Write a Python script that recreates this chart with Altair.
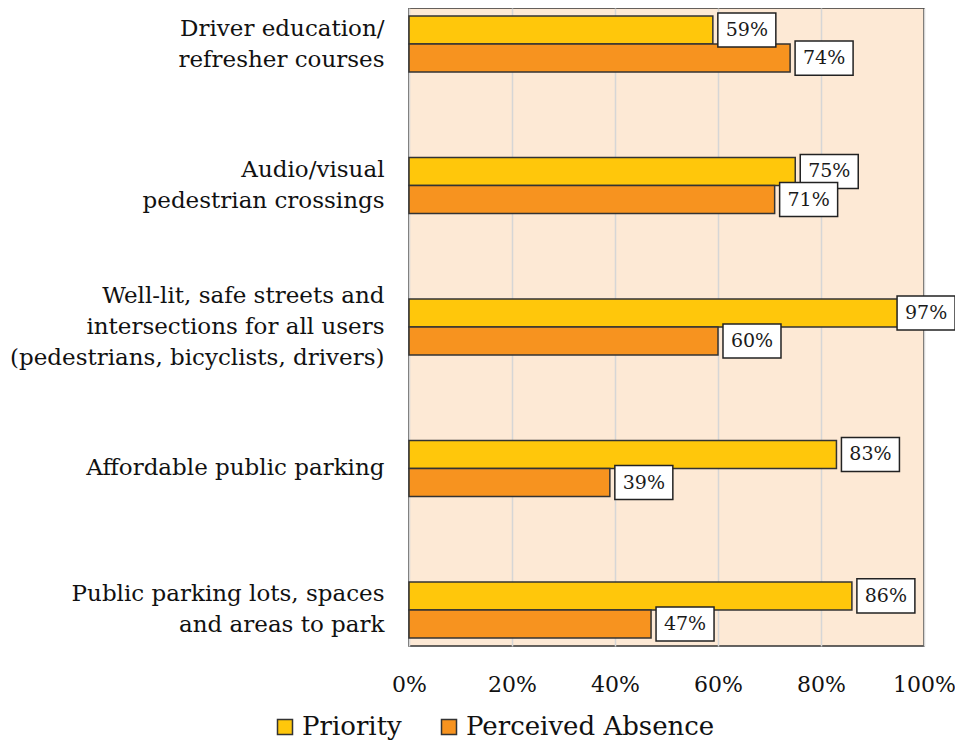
import altair as alt
import pandas as pd

categories = [
    "Driver education/\nrefresher courses",
    "Audio/visual\npedestrian crossings",
    "Well-lit, safe streets and\nintersections for all users\n(pedestrians, bicyclists, drivers)",
    "Affordable public parking",
    "Public parking lots, spaces\nand areas to park",
]
series = ["Priority", "Perceived Absence"]
priority = [59, 75, 97, 83, 86]
perceived = [74, 71, 60, 39, 47]
x_ticks = [0, 20, 40, 60, 80, 100]

rows = []
for c, p, a in zip(categories, priority, perceived):
    rows.append({"cat": c, "series": "Priority", "value": p})
    rows.append({"cat": c, "series": "Perceived Absence", "value": a})
df = pd.DataFrame(rows)

FONT = "DejaVu Serif"
colors = ["#FFC70B", "#F7931F"]

y_enc = alt.Y("cat:N", sort=categories, title=None,
              scale=alt.Scale(paddingInner=0.604, paddingOuter=0.0565),
              axis=alt.Axis(labelExpr="split(datum.label, '\\n')", labelFont=FONT,
                            labelFontSize=23, labelColor="#111", labelLineHeight=31,
                            labelPadding=25, ticks=False, domain=False, labelLimit=500,
                            labelAlign="right", labelBaseline="middle",
                            labelOffset={"condition": [
                                {"test": "length(split(datum.value, '\\n')) == 3", "value": -31},
                                {"test": "length(split(datum.value, '\\n')) == 2", "value": -15.5}],
                                "value": 0}))
yoff = alt.YOffset("series:N", sort=series, scale=alt.Scale(paddingInner=0, paddingOuter=0))

bars = alt.Chart(df).mark_bar(stroke="#333", strokeWidth=1.5).encode(
    x=alt.X("value:Q", title=None,
            scale=alt.Scale(domain=[0, 100]),
            axis=alt.Axis(values=x_ticks, labelExpr="datum.value + '%'", labelFont=FONT,
                          labelFontSize=22, labelColor="#111", labelPadding=28,
                          labelFlush=False,
                          ticks=False, domain=False, grid=True, gridColor="#D6D6D6",
                          gridWidth=1.5)),
    y=y_enc,
    yOffset=yoff,
    color=alt.Color("series:N", sort=series, title=None,
                    scale=alt.Scale(domain=series, range=colors),
                    legend=alt.Legend(orient="none", legendX=-137, legendY=706,
                                      direction="horizontal", symbolType="square",
                                      symbolSize=225, symbolStrokeColor="#333",
                                      symbolStrokeWidth=1.5, labelFont=FONT,
                                      labelFontSize=26, labelColor="#111",
                                      columnPadding=34, labelOffset=4, labelLimit=500,
                                      symbolOpacity=1)),
)

box_shape = "M-1,-0.59 L1,-0.59 L1,0.59 L-1,0.59 Z"
base = alt.Chart(df).transform_calculate(
    label="datum.value + '%'",
    bx="min(datum.value + 6.6, 100.4)",
)
boxes = base.mark_point(shape=box_shape, size=3364, filled=True, fill="white",
                        stroke="#222", strokeWidth=1.5, opacity=1).encode(
    x="bx:Q", y=y_enc, yOffset=yoff,
)
labels = base.mark_text(font=FONT, fontSize=19, color="#1a1a1a",
                        align="center", baseline="middle").encode(
    x="bx:Q", y=y_enc, yOffset=yoff,
    text=alt.Text("label:N"),
)

chart = (bars + boxes + labels).properties(
    width=515, height=638,
    autosize=alt.AutoSizeParams(type="none"),
    padding={"left": 401, "top": 0, "right": 31, "bottom": 94},
).configure_view(fill="#FDE9D5", stroke="#333", strokeWidth=1.5)

chart.save("out.html", embed_options={"renderer": "svg", "actions": False})
